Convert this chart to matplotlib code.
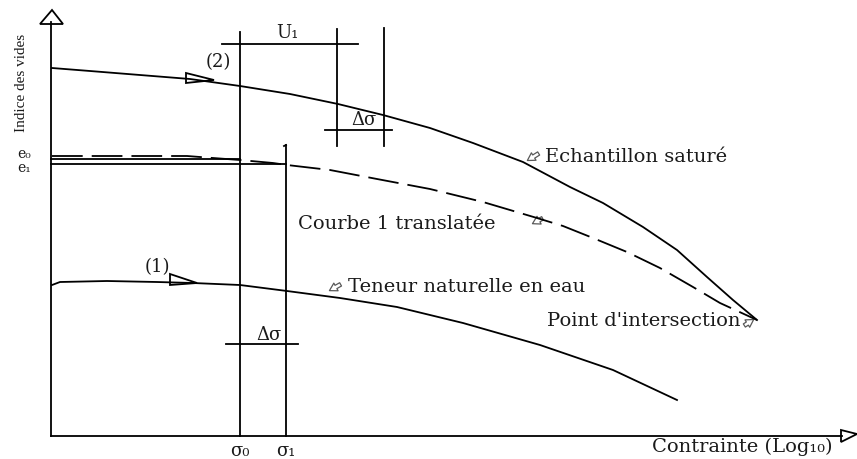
import numpy as np
import matplotlib
matplotlib.use("Agg")
import matplotlib.pyplot as plt
from matplotlib.patches import Polygon, FancyArrowPatch

plt.rcParams['font.family'] = ['DejaVu Serif', 'DejaVu Sans']

# curves, in drawing units (x to the right, y downwards)
sat_x = [52, 90, 140, 190, 240, 290, 338, 383, 430, 473, 523, 570, 603, 643, 677, 707, 733, 757]
sat_y = [68, 71, 75, 79, 86, 94, 104, 115, 128, 143, 162, 187, 203, 227, 250, 277, 300, 320]

trans_x = [52, 120, 187, 213, 240, 273, 287, 330, 377, 430, 483, 537, 563, 593, 627, 660, 693, 720, 757]
trans_y = [156, 156, 156, 158, 160, 163, 165, 170, 179, 189, 202, 218, 226, 238, 252, 268, 287, 303, 320]

nat_x = [52, 60, 107, 157, 193, 240, 287, 340, 397, 463, 540, 613, 677]
nat_y = [285, 282, 281, 282, 283, 285, 291, 298, 307, 323, 345, 370, 400]

# stress levels and void ratios
sigma0, sigma1 = 240, 286
sig_a, sig_b = 337, 384
e0, e1 = 159, 164
x_axis_y, y_axis_x = 436, 51

fig = plt.figure(figsize=(8.57, 4.59), dpi=100)
ax = fig.add_axes([0, 0, 1, 1])
ax.set_xlim(0, 857)
ax.set_ylim(459, 0)
ax.axis('off')

lw = 1.3
k = 'black'

# axes with open arrow heads
ax.plot([y_axis_x, y_axis_x], [x_axis_y, 22], color=k, lw=lw)
ax.plot([y_axis_x, 842], [x_axis_y, x_axis_y], color=k, lw=lw)
ax.add_patch(Polygon([[52, 10], [40, 24], [63, 24]], closed=True, fc='white', ec=k, lw=lw))
ax.add_patch(Polygon([[841, 430], [841, 442], [857, 434]], closed=True, fc='white', ec=k, lw=lw))

# curves
ax.plot(sat_x, sat_y, color=k, lw=lw)
ax.plot(trans_x, trans_y, color=k, lw=lw, dashes=(17, 5))
ax.plot(nat_x, nat_y, color=k, lw=lw)

# e0 / e1 levels
ax.plot([y_axis_x, sigma0], [e0, e0], color=k, lw=lw)
ax.plot([y_axis_x, sigma1], [e1, e1], color=k, lw=lw)

# vertical construction lines
ax.plot([sigma0, sigma0], [32, x_axis_y], color=k, lw=lw)
ax.plot([sigma1, sigma1], [145, x_axis_y], color=k, lw=lw)
ax.plot([sigma1 - 2, sigma1], [146, 145], color=k, lw=lw)
ax.plot([sig_a, sig_a], [29, 146], color=k, lw=lw)
ax.plot([sig_b, sig_b], [28, 146], color=k, lw=lw)

# U1 and delta-sigma bars
ax.plot([222, 358], [44, 44], color=k, lw=lw)
ax.plot([325, 392], [130, 130], color=k, lw=lw)
ax.plot([226, 298], [344, 344], color=k, lw=lw)

# open triangles on the curves
ax.add_patch(Polygon([[186, 73], [186, 83], [214, 80]], closed=True, fc='white', ec=k, lw=lw))
ax.add_patch(Polygon([[170, 274], [170, 285], [197, 283]], closed=True, fc='white', ec=k, lw=lw))

# small hollow pointer arrows
def pointer(tail, tip):
    ax.add_patch(FancyArrowPatch(tail, tip, arrowstyle='simple,head_width=0.7,head_length=0.6,tail_width=0.3',
                                 mutation_scale=9, fc='white', ec='0.35', lw=0.9))

pointer((541, 152), (525, 162))
pointer((545, 217), (530, 225))
pointer((343, 283), (327, 292))
pointer((742, 327), (756, 318))

fs = 14
tc = '#1a1a1a'
ax.text(22, 83, 'Indice des vides', rotation=90, ha='center', va='center', fontsize=11,
        family=['Liberation Serif', 'DejaVu Serif'], color=tc)
ax.text(24, 154, 'e₀', ha='center', va='center', fontsize=10, color=tc)
ax.text(24, 168, 'e₁', ha='center', va='center', fontsize=10, color=tc)
ax.text(218, 62, '(2)', ha='center', va='center', fontsize=13, color=tc)
ax.text(157, 267, '(1)', ha='center', va='center', fontsize=13, color=tc)
ax.text(287, 33, 'U₁', ha='center', va='center', fontsize=13, color=tc)
ax.text(364, 120, 'Δσ', ha='center', va='center', fontsize=13, color=tc)
ax.text(269, 335, 'Δσ', ha='center', va='center', fontsize=13, color=tc)
ax.text(545, 157, 'Echantillon saturé', ha='left', va='center', fontsize=fs, color=tc)
ax.text(298, 224, 'Courbe 1 translatée', ha='left', va='center', fontsize=fs, color=tc)
ax.text(348, 287, 'Teneur naturelle en eau', ha='left', va='center', fontsize=fs, color=tc)
ax.text(741, 321, "Point d'intersection", ha='right', va='center', fontsize=fs, color=tc)
ax.text(833, 447, 'Contrainte (Log₁₀)', ha='right', va='center', fontsize=fs, color=tc)
ax.text(sigma0, 451, 'σ₀', ha='center', va='center', fontsize=13, color=tc)
ax.text(sigma1, 451, 'σ₁', ha='center', va='center', fontsize=13, color=tc)

fig.savefig('out.png', dpi=100)
